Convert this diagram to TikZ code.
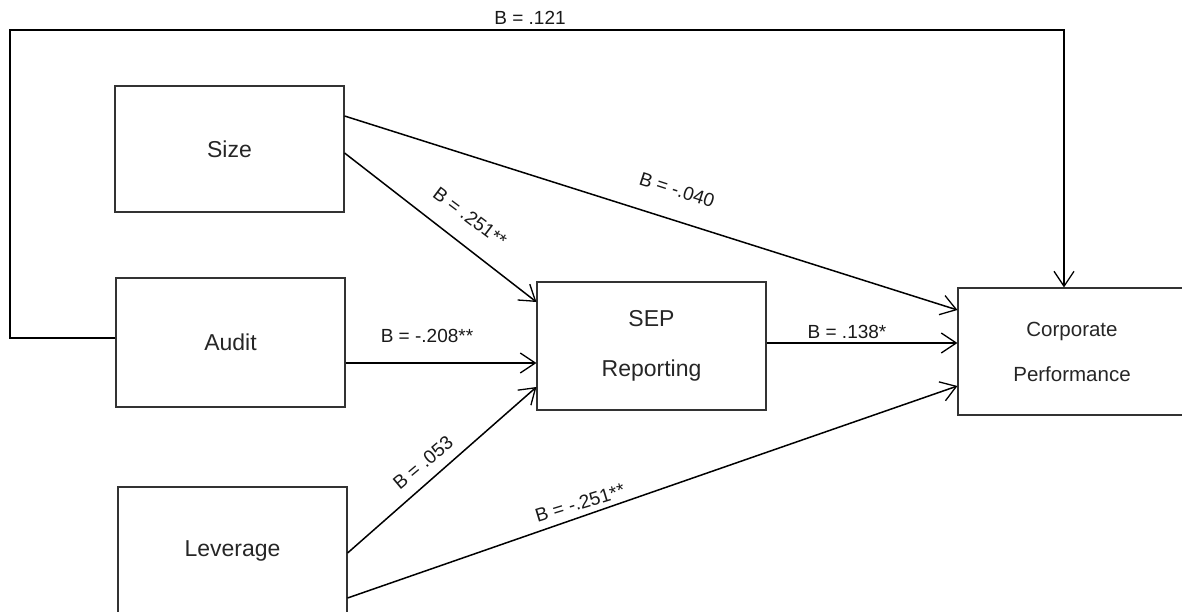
\documentclass[tikz,border=0pt]{standalone}
\usepackage{fontspec}
\setmainfont{Liberation Sans}
\usetikzlibrary{arrows.meta,calc}
\begin{document}
\begin{tikzpicture}[x=1pt,y=-1pt,
  box/.style={draw=black!80, line width=1.1pt, minimum width=229pt, minimum height=128pt,
    inner sep=0pt, align=center, font=\fontsize{23}{27}\selectfont, text=black!85},
  conn/.style={line width=1.5pt, -{Straight Barb[length=15pt,width=20pt,line width=1.3pt]}},
  lab/.style={font=\fontsize{19}{22}\selectfont, inner sep=0pt, text=black!90}]
\useasboundingbox (0,0) rectangle (1182,612);
\clip (0,0) rectangle (1182,612);

\node[box, minimum height=126pt] (size) at (229.5,149) {Size};
\node[box, minimum height=129pt] (audit) at (230.5,342.5) {Audit};
\node[box] (lev) at (232.5,551) {Leverage};
\node[box] (sep) at (651.5,346) {SEP\\[23pt]Reporting};
\node[box, minimum width=228pt, minimum height=127pt, font=\fontsize{20.5}{24}\selectfont] (corp) at (1072,351.5) {Corporate\\[21pt]Performance};

\draw[conn] ($(size.east)+(0,-33)$) -- ($(corp.west)+(0,-41.5)$);
\draw[conn] ($(size.east)+(0,4)$) -- ($(sep.west)+(0,-44)$);
\draw[conn] ($(audit.east)+(0,20.5)$) -- ($(sep.west)+(0,17)$);
\draw[conn] ($(sep.east)+(0,-3)$) -- ($(corp.west)+(0,-8.5)$);
\draw[conn] ($(lev.east)+(0,2)$) -- ($(sep.west)+(0,41)$);
\draw[conn] ($(lev.east)+(0,47)$) -- ($(corp.west)+(0,34.5)$);
\coordinate (tl) at (10,30);
\draw[conn] ($(audit.west)+(0,-4.5)$) -| (tl) -| ($(corp.north)+(-8,0)$);

\node[lab] (l121) at (530,18) {B = .121};
\node[lab] (l208) at (427,336) {B = -.208**};
\node[lab] (l138) at (847,332) {B = .138*};
\node[lab, rotate=-37] (l251) at (470,217) {B = .251**};
\node[lab, rotate=-18] (l040) at (677,190) {B = -.040};
\node[lab, rotate=40] (l053) at (423,463) {B = .053};
\node[lab, rotate=17] (l251b) at (580,503) {B = -.251**};
\end{tikzpicture}
\end{document}
